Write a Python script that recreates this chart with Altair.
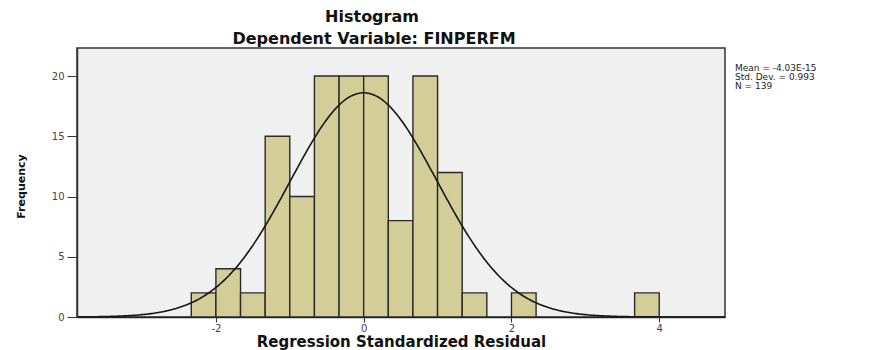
import altair as alt
import pandas as pd

# ---- data ----
bin_starts = [-7/3, -2, -5/3, -4/3, -1, -2/3, -1/3, 0, 1/3, 2/3, 1, 4/3, 2, 11/3]
counts = [2, 4, 2, 15, 10, 20, 20, 20, 8, 20, 12, 2, 2, 2]
bin_width = 1/3
mean_val = -4.03e-15
sd_val = 0.993
n_val = 139
x_ticks = [-2, 0, 2, 4]
y_ticks = [0, 5, 10, 15, 20]
stats_lines = ["Mean = -4.03E-15", "Std. Dev. = 0.993", "N = 139"]
title_text = "Histogram"
subtitle_text = "Dependent Variable: FINPERFM"
x_title = "Regression Standardized Residual"
y_title = "Frequency"

FONT = "DejaVu Sans"
BAR_FILL = "#D3CE97"
BAR_STROKE = "#2a2a2a"

df = pd.DataFrame({"start": bin_starts, "count": counts})

xscale = alt.Scale(domain=[-3.88, 4.89], nice=False, zero=False)
yscale = alt.Scale(domain=[0, 22.33], nice=False, zero=True)

x_axis = alt.Axis(
    values=x_ticks, labelExpr="'' + datum.value", grid=False, tickSize=5, labelPadding=1,
    labelFont=FONT, labelFontSize=10, labelColor="#444444",
    tickColor="#333333", domainColor="#222222", domainWidth=1.5,
    title=x_title, titleFont=FONT, titleFontSize=15, titleFontWeight="bold",
    titleColor="#111111", titleBaseline="alphabetic", titleY=29, titleX=324,
    titleAlign="center",
)
y_axis = alt.Axis(
    values=y_ticks, labelExpr="'' + datum.value", grid=False, tickSize=10, labelPadding=3,
    labelFont=FONT, labelFontSize=10, labelColor="#444444",
    tickColor="#333333", domainColor="#333333", domainWidth=1.5,
    title=y_title, titleFont=FONT, titleFontSize=11, titleFontWeight="bold",
    titleColor="#111111", titleAngle=270, titleAlign="center",
    titleBaseline="alphabetic", titleX=-53, titleY=138,
)

bars = (
    alt.Chart(df)
    .transform_calculate(end=f"datum.start + {bin_width}")
    .mark_bar(fill=BAR_FILL, stroke=BAR_STROKE, strokeWidth=1.4)
    .encode(
        x=alt.X("start:Q", scale=xscale, axis=x_axis),
        x2="end:Q",
        y=alt.Y("count:Q", scale=yscale, axis=y_axis),
        y2=alt.datum(0),
    )
)

curve = (
    alt.Chart(alt.sequence(-3.88, 4.90, 0.02, as_="x"))
    .transform_calculate(
        y=f"{n_val}*{bin_width}*exp(-pow(datum.x - ({mean_val}),2)/(2*{sd_val}*{sd_val}))/({sd_val}*sqrt(2*PI))"
    )
    .mark_line(color="#151515", strokeWidth=1.6, clip=True)
    .encode(x=alt.X("x:Q", scale=xscale), y=alt.Y("y:Q", scale=yscale))
)

one = alt.Data(values=[{"a": 1}])

title_mark = alt.Chart(one).mark_text(
    font=FONT, fontSize=16, fontWeight="bold", color="#111111",
    align="center", baseline="alphabetic",
).encode(x=alt.value(295), y=alt.value(-26), text=alt.value(title_text))

subtitle_mark = alt.Chart(one).mark_text(
    font=FONT, fontSize=16, fontWeight="bold", color="#111111",
    align="center", baseline="alphabetic",
).encode(x=alt.value(297), y=alt.value(-4), text=alt.value(subtitle_text))

stats_mark = alt.Chart(one).mark_text(
    font=FONT, fontSize=9, color="#222222", align="left",
    baseline="alphabetic", lineHeight=9,
).encode(x=alt.value(658), y=alt.value(23), text=alt.value(stats_lines))

chart = (
    alt.layer(bars, curve, title_mark, subtitle_mark, stats_mark)
    .properties(
        width=648, height=269, autosize="none",
        padding={"left": 69, "top": 40, "right": 136, "bottom": 33},
        background="white",
    )
    .configure_view(fill="#F0F0F0", stroke="#333333", strokeWidth=1.5)
)

chart.save("out.html", embed_options={"renderer": "svg", "actions": False})
